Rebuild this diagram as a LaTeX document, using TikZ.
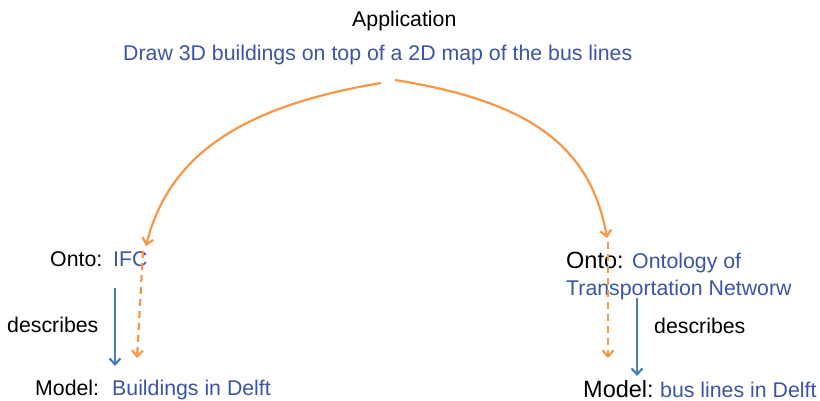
\documentclass[tikz,border=0pt]{standalone}
\usepackage{fontspec}
\setmainfont{Liberation Sans}
\usetikzlibrary{arrows.meta}
\definecolor{txtblue}{RGB}{59,84,165}
\definecolor{arrblue}{RGB}{74,126,187}
\definecolor{flowor}{RGB}{247,150,70}
\begin{document}
\begin{tikzpicture}[>={Straight Barb[length=6pt,width=11pt]},x=1pt,y=-1pt,
		lbl/.style={inner sep=0pt,anchor=base west,font=\fontsize{21.3}{25}\selectfont},
		biglbl/.style={lbl,font=\fontsize{23.5}{28}\selectfont},
		val/.style={lbl,text=txtblue},
		flow/.style={->,draw=flowor,line width=2.2pt},
		desc/.style={->,draw=arrblue,line width=2.2pt}]
	\useasboundingbox (0,0) rectangle (820,401);
	% application
	\node[lbl] (app) at (352,27) {Application};
	\node[val] (task) at (123,61) {Draw 3D buildings on top of a 2D map of the bus lines};
	% left: IFC
	\node[lbl] (ontoL) at (50,266) {Onto:};
	\node[val] (ifc) at (113,266) {IFC};
	\node[lbl] (descL) at (7,332) {describes};
	\node[lbl] (modelL) at (35,395) {Model:};
	\node[val] (bldg) at (112,395) {Buildings in Delft};
	% right: transport ontology
	\node[biglbl] (ontoR) at (566,268) {Onto:};
	\node[val] (ontR1) at (632,268) {Ontology of};
	\node[val] (ontR2) at (566,295) {Transportation Networw};
	\node[lbl] (descR) at (654,333) {describes};
	\node[biglbl] (modelR) at (583,397) {Model:};
	\node[val] (bus) at (660,397) {bus lines in Delft};
	% arrow ends
	\coordinate (srcL) at (381,83);
	\coordinate (srcR) at (395,80);
	\coordinate (ifcIn) at (146,246);
	\coordinate (ontIn) at (607,238);
	\coordinate (ifcOut) at (143,251);
	\coordinate (bldgIn) at (137,358);
	\coordinate (ontOut) at (608,242);
	\coordinate (busIn) at (608,358);
	\coordinate (descLa) at (115,288);
	\coordinate (descLb) at (115,366);
	\coordinate (descRa) at (637,298);
	\coordinate (descRb) at (637,376);
	\draw[flow] (srcL) .. controls (250,105) and (170,150) .. (ifcIn);
	\draw[flow] (srcR) .. controls (520,100) and (590,140) .. (ontIn);
	\draw[flow,dash pattern=on 7pt off 5pt] (ifcOut) -- (bldgIn);
	\draw[flow,dash pattern=on 7pt off 5pt] (ontOut) -- (busIn);
	\draw[desc] (descLa) -- (descLb);
	\draw[desc] (descRa) -- (descRb);
\end{tikzpicture}
\end{document}
